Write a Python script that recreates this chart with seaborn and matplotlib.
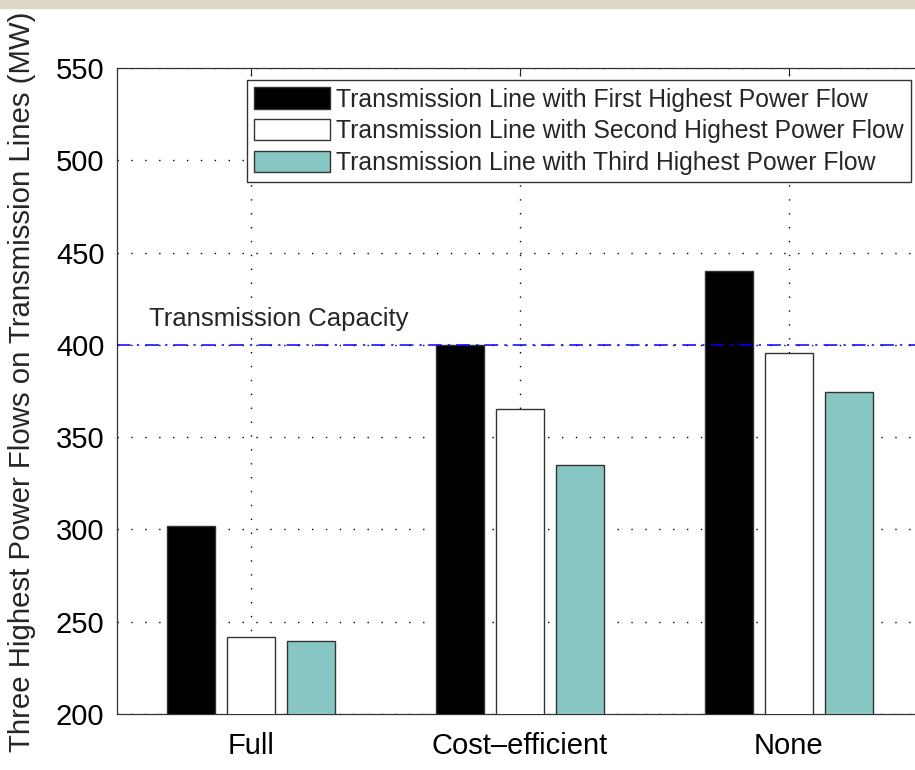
import matplotlib
matplotlib.use("Agg")
import matplotlib.pyplot as plt
import seaborn as sns
import pandas as pd
from matplotlib.patches import Rectangle

# ---- data ----
scenarios = ["Full", "Cost\u2013efficient", "None"]
series_names = [
    "Transmission Line with First Highest Power Flow",
    "Transmission Line with Second Highest Power Flow",
    "Transmission Line with Third Highest Power Flow",
]
first_flow = [301.8, 400.0, 440.2]
second_flow = [241.8, 365.4, 395.7]
third_flow = [239.4, 335.0, 374.2]
capacity = 400
y_ticks = [200, 250, 300, 350, 400, 450, 500, 550]
colors = ["#000000", "#FFFFFF", "#88C6C4"]

rows = []
for name, vals in zip(series_names, [first_flow, second_flow, third_flow]):
    for s, v in zip(scenarios, vals):
        rows.append({"Scenario": s, "Series": name, "Flow": v})
df = pd.DataFrame(rows)

sns.set_style("white")
plt.rcParams["font.family"] = ["Liberation Sans", "DejaVu Sans"]

W, H = 915, 770
fig = plt.figure(figsize=(W / 100, H / 100), dpi=100)
fig.patches.append(Rectangle((0, 1 - 8 / H), 1, 8 / H, transform=fig.transFigure,
                             color="#E0D6C4", zorder=0))

left, right, top, bottom = 117, 923, 68, 714
ax = fig.add_axes([left / W, 1 - bottom / H, (right - left) / W, (bottom - top) / H])

sns.barplot(data=df, x="Scenario", y="Flow", hue="Series", order=scenarios,
            hue_order=series_names, palette=colors, width=0.67, gap=0.2,
            edgecolor="#333333", linewidth=1.0, saturation=1, ax=ax, zorder=3)

ax.set_xlim(-0.5, 2.5)
ax.set_ylim(200, 550)
ax.set_yticks(y_ticks)
ax.set_xlabel("")
ax.set_ylabel("Three Highest Power Flows on Transmission Lines (MW)", fontsize=21.2,
              labelpad=9)
ax.yaxis.set_label_coords(-0.1, 0.515)
ax.tick_params(axis="both", direction="in", length=6, labelsize=21, width=0.8,
               top=True, right=True, colors="#222222", labelcolor="black")
ax.tick_params(axis="y", pad=9)
ax.tick_params(axis="x", pad=13)
ax.grid(True, color="black", linestyle=(0, (1, 9)), linewidth=1.0, zorder=0)
ax.set_axisbelow(True)
for sp in ax.spines.values():
    sp.set_color("#333333")
    sp.set_linewidth(0.9)

ax.axhline(capacity, color="#0000FF", linestyle=(0, (9, 4, 1.5, 4)), linewidth=1.1,
           zorder=4)
ax.text(-0.38, 410, "Transmission Capacity", fontsize=18.5, ha="left",
        va="baseline")

leg = ax.legend(loc="upper right", bbox_to_anchor=(911 / W, 1 - 80 / H),
                bbox_transform=fig.transFigure, fontsize=17.8, frameon=True,
                fancybox=False, edgecolor="#333333", framealpha=1,
                handlelength=3.05, handleheight=0.95, handletextpad=0.25,
                labelspacing=0.3, borderpad=0.3, borderaxespad=0)
leg.get_frame().set_linewidth(1.0)
leg.set_zorder(10)

fig.savefig("out.png", dpi=100)
